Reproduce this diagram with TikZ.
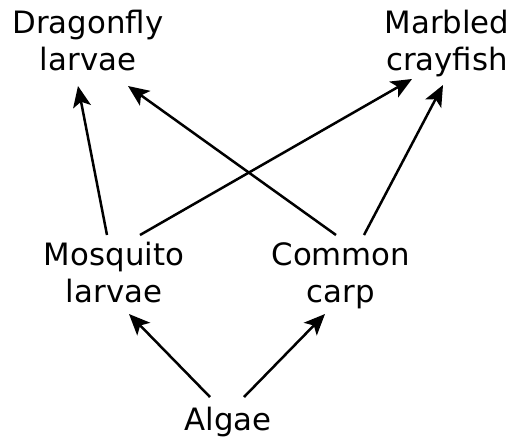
\documentclass[tikz,border=0pt]{standalone}
\usepackage{fontspec}
\setmainfont{DejaVu Sans}
\usetikzlibrary{arrows.meta,calc}
\begin{document}
\begin{tikzpicture}[x=1pt,y=-1pt,
  species/.style={inner sep=0pt, align=center, anchor=base,
                  font=\fontsize{30.8}{37}\selectfont},
  feeds/.style={line width=2.5pt, -{Stealth[length=21pt,width=18pt,inset=5pt]}}]
\useasboundingbox (0,0) rectangle (513,440);
% organisms, placed by the baseline of their last line
\node[species] (drag) at (88,70)   {Dragonfly\\larvae};
\node[species] (marb) at (447,70)  {Marbled\\crayfish};
\node[species] (mosq) at (114,302) {Mosquito\\larvae};
\node[species] (carp) at (341,302) {Common\\carp};
\node[species] (alg)  at (228,430) {Algae};
% who is eaten by whom
\draw[feeds] ($(mosq.base)+(-7,-67)$) -- ($(drag.base)+(-10,16)$);
\draw[feeds] ($(mosq.base)+(26,-67)$) -- ($(marb.base)+(-35,9)$);
\draw[feeds] ($(carp.base)+(-5,-67)$) -- ($(drag.base)+(40,16)$);
\draw[feeds] ($(carp.base)+(23,-67)$) -- ($(marb.base)+(-4,15)$);
\draw[feeds] ($(alg.base)+(-18,-33)$) -- ($(mosq.base)+(15,12)$);
\draw[feeds] ($(alg.base)+(16,-33)$) -- ($(carp.base)+(-16,12)$);
\end{tikzpicture}
\end{document}
